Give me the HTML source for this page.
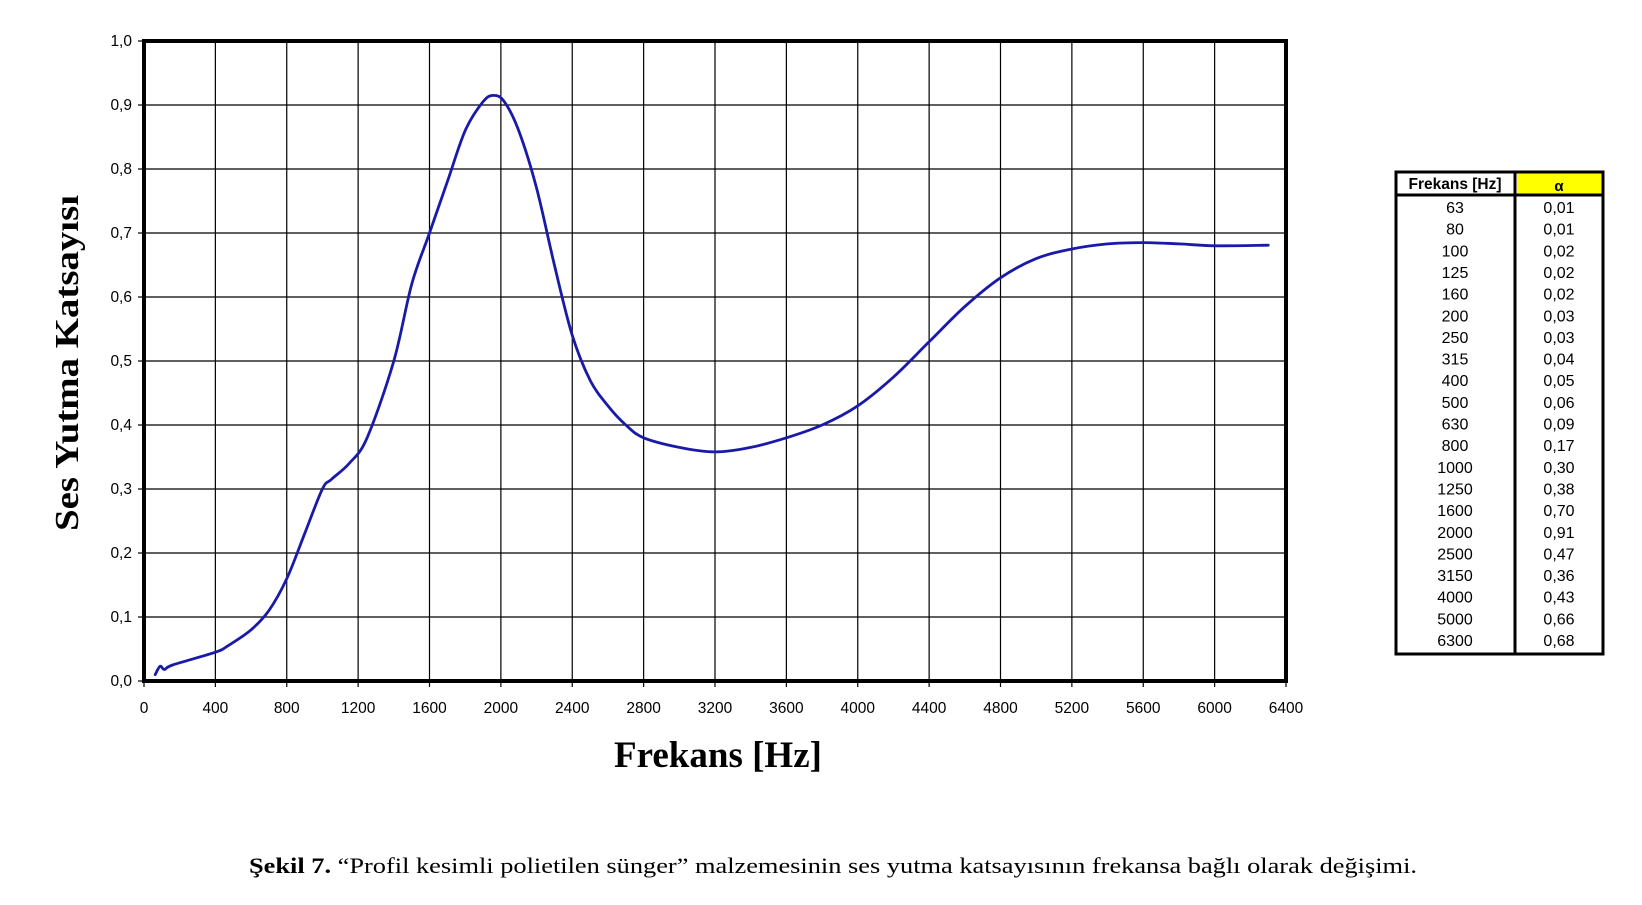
<!DOCTYPE html>
<html><head><meta charset="utf-8"><style>
body{margin:0;background:#fff;width:1642px;height:905px;overflow:hidden;position:relative;font-family:"Liberation Sans",Arial,sans-serif}
</style></head><body>
<svg width="1642" height="905" style="position:absolute;left:0;top:0" font-family="Liberation Sans, Arial, sans-serif">
<g stroke="#000" stroke-width="1.2" id="grid"></g>
<g id="labels" font-size="15.5" fill="#000"></g>
<rect x="144" y="41" width="1142" height="640" fill="none" stroke="#000" stroke-width="4"/>
<path id="curve" fill="none" stroke="#1a1aaa" stroke-width="2.8" stroke-linejoin="round" stroke-linecap="round" d=""/>
<text x="70" y="363" transform="rotate(-90 70 363)" text-anchor="middle" dominant-baseline="middle" font-family="Liberation Serif, serif" font-weight="bold" font-size="34" textLength="336" lengthAdjust="spacingAndGlyphs">Ses Yutma Katsayısı</text>
<text x="718" y="767" text-anchor="middle" font-family="Liberation Serif, serif" font-weight="bold" font-size="37">Frekans [Hz]</text>
<text x="833" y="873" text-anchor="middle" font-family="Liberation Serif, serif" font-size="22" textLength="1168" lengthAdjust="spacingAndGlyphs"><tspan font-weight="bold">Şekil 7.</tspan> “Profil kesimli polietilen sünger” malzemesinin ses yutma katsayısının frekansa bağlı olarak değişimi.</text>
<g id="tbl"></g>
</svg>
<script>
var ns="http://www.w3.org/2000/svg";
function el(p,n,a,txt){var e=document.createElementNS(ns,n);for(var k in a)e.setAttribute(k,a[k]);if(txt!=null)e.textContent=txt;p.appendChild(e);return e;}
var g=document.getElementById('grid'),L=document.getElementById('labels');
for(var k=0;k<=16;k++){var x=144+k*1142/16;if(k>0&&k<16)el(g,'line',{x1:x,y1:41,x2:x,y2:681});el(g,'line',{x1:x,y1:681,x2:x,y2:687});
el(L,'text',{x:x,y:713,'text-anchor':'middle'},String(k*400));}
for(var k=0;k<=10;k++){var y=681-k*64;if(k>0&&k<10)el(g,'line',{x1:144,y1:y,x2:1286,y2:y});el(g,'line',{x1:138,y1:y,x2:144,y2:y});
el(L,'text',{x:132,y:y+5,'text-anchor':'end'},(k/10).toFixed(1).replace('.',','));}
var P=[[155.2,674.6],[160.1,666.3],[164.5,669.5],[172.6,665],[215.4,652.2],[227.9,645.8],[251.1,629.8],[268.9,610.6],[286.8,578.6],[304.6,533.8],[322.4,489],[331.4,479.4],[349.2,463.4],[367.1,437.8],[393.8,361],[411.7,284.2],[429.5,233],[447.3,181.8],[465.2,130.6],[483,101.8],[493.7,95.4],[504.4,101.8],[518.7,130.6],[536.6,188.2],[554.4,265],[572.3,335.4],[590.1,380.2],[607.9,405.8],[625.8,425],[643.6,437.8],[679.3,447.4],[715,451.9],[750.7,447.4],[786.4,437.8],[822.1,425],[857.8,405.8],[893.5,377],[929.1,341.8],[964.8,306.6],[1000.5,277.8],[1036.2,258.6],[1071.9,249],[1107.6,243.9],[1143.3,242.6],[1179,243.9],[1214.6,245.8],[1268.2,245.2]];
var d="M"+P[0][0]+","+P[0][1];
for(var i=0;i<P.length-1;i++){var p0=P[Math.max(0,i-1)],p1=P[i],p2=P[i+1],p3=P[Math.min(P.length-1,i+2)];
var c1x=p1[0]+(p2[0]-p0[0])/6,c1y=p1[1]+(p2[1]-p0[1])/6,c2x=p2[0]-(p3[0]-p1[0])/6,c2y=p2[1]-(p3[1]-p1[1])/6;
d+=" C"+c1x.toFixed(1)+","+c1y.toFixed(1)+" "+c2x.toFixed(1)+","+c2y.toFixed(1)+" "+p2[0]+","+p2[1];}
document.getElementById('curve').setAttribute('d',d);
var T=document.getElementById('tbl');
el(T,'rect',{x:1517,y:173,width:85,height:22,fill:'#ffff00'});
el(T,'rect',{x:1396,y:172,width:207,height:482,fill:'none',stroke:'#000','stroke-width':3});
el(T,'line',{x1:1396,y1:195,x2:1603,y2:195,stroke:'#000','stroke-width':3});
el(T,'line',{x1:1515,y1:172,x2:1515,y2:654,stroke:'#000','stroke-width':3});
el(T,'text',{x:1455,y:189,'text-anchor':'middle','font-size':15.5,'font-weight':'bold'},'Frekans [Hz]');
el(T,'text',{x:1559,y:191,'text-anchor':'middle','font-size':15,'font-weight':'bold'},'α');
var f=[63,80,100,125,160,200,250,315,400,500,630,800,1000,1250,1600,2000,2500,3150,4000,5000,6300];
var a=['0,01','0,01','0,02','0,02','0,02','0,03','0,03','0,04','0,05','0,06','0,09','0,17','0,30','0,38','0,70','0,91','0,47','0,36','0,43','0,66','0,68'];
for(var i=0;i<21;i++){var y=213+i*21.65;el(T,'text',{x:1455,y:y,'text-anchor':'middle','font-size':16},String(f[i]));el(T,'text',{x:1559,y:y,'text-anchor':'middle','font-size':16},a[i]);}
</script>
</body></html>
